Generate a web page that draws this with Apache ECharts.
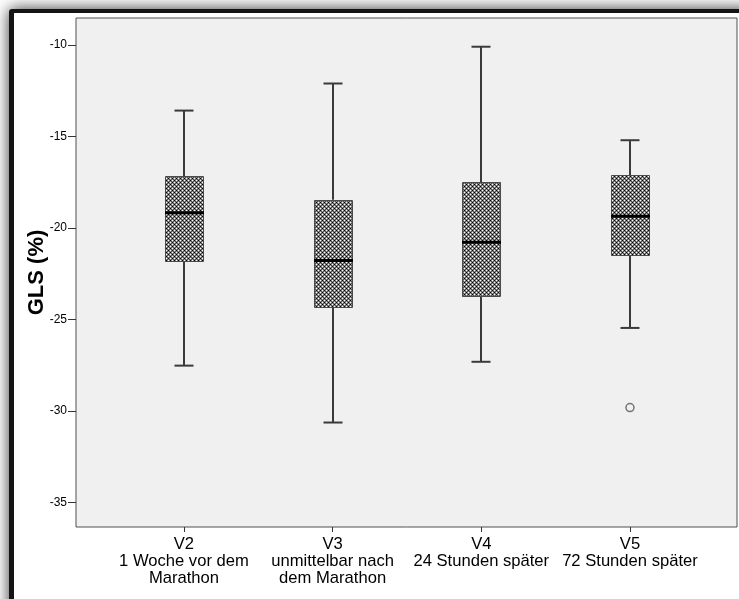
<!DOCTYPE html>
<html>
<head>
<meta charset="utf-8">
<script src="https://cdn.jsdelivr.net/npm/echarts@6/dist/echarts.min.js"></script>
<style>
  html, body { margin: 0; padding: 0; background: #fff; }
  #chart { width: 739px; height: 599px; }
</style>
</head>
<body>
<div id="chart"></div>
<script>
// Visit codes and their descriptions (x categories)
const codes = ['V2', 'V3', 'V4', 'V5'];
const descriptions = ['1 Woche vor dem\nMarathon', 'unmittelbar nach\ndem Marathon', '24 Stunden später', '72 Stunden später'];

// Box plot statistics for GLS (%)
const whiskerLow  = [-27.52, -30.63, -27.31, -25.46];
const quartile1   = [-21.79, -24.33, -23.69, -21.46];
const median      = [-19.16, -21.77, -20.77, -19.35];
const quartile3   = [-17.17, -18.45, -17.49, -17.12];
const whiskerHigh = [-13.58, -12.10, -10.09, -15.20];

// Outliers: [visit position, value]
const outliers = [[4, -29.81]];

// Y axis tick values
const yTicks = [-35, -30, -25, -20, -15, -10];

const FONT = '"Liberation Sans", Arial, sans-serif';

// Cross-hatch fill tile
function makeHatch() {
  const c = document.createElement('canvas');
  c.width = 4; c.height = 4;
  const ctx = c.getContext('2d');
  const W = '#ffffff', K = '#000000', g = '#8a8a8a', D = '#505050';
  const tile = [
    [W, g, K, g],
    [g, D, g, D],
    [K, g, W, g],
    [g, D, g, D]
  ];
  for (let y = 0; y < 4; y++) {
    for (let x = 0; x < 4; x++) {
      ctx.fillStyle = tile[y][x];
      ctx.fillRect(x, y, 1, 1);
    }
  }
  return c;
}
const hatch = { image: makeHatch(), repeat: 'repeat' };

const positions = codes.map((c, i) => i + 1);
const boxData = codes.map((c, i) => [i + 1, whiskerLow[i], quartile1[i], median[i], quartile3[i], whiskerHigh[i]]);

function renderBox(params, api) {
  const x = api.value(0);
  const pLow = api.coord([x, api.value(1)]);
  const pQ1 = api.coord([x, api.value(2)]);
  const pMed = api.coord([x, api.value(3)]);
  const pQ3 = api.coord([x, api.value(4)]);
  const pHigh = api.coord([x, api.value(5)]);
  const unit = api.size([1, 0])[0];
  const bw = Math.round(unit * 0.2556);
  const cw = Math.round(unit * 0.128);
  const cx = Math.round(pLow[0]);
  const whiskerStyle = { stroke: '#3a3a3a', lineWidth: 2 };
  return {
    type: 'group',
    children: [
      { type: 'line', shape: { x1: cx, y1: pHigh[1], x2: cx, y2: pQ3[1] }, style: whiskerStyle },
      { type: 'line', shape: { x1: cx, y1: pQ1[1], x2: cx, y2: pLow[1] }, style: whiskerStyle },
      { type: 'line', shape: { x1: cx - cw / 2, y1: pHigh[1], x2: cx + cw / 2, y2: pHigh[1] }, style: whiskerStyle },
      { type: 'line', shape: { x1: cx - cw / 2, y1: pLow[1], x2: cx + cw / 2, y2: pLow[1] }, style: whiskerStyle },
      {
        type: 'rect',
        shape: { x: cx - bw / 2 + 0.5, y: Math.round(pQ3[1]) + 0.5, width: bw, height: Math.round(pQ1[1]) - Math.round(pQ3[1]) },
        style: { fill: hatch, stroke: '#4a4a4a', lineWidth: 1 }
      },
      { type: 'line', shape: { x1: cx - bw / 2, y1: pMed[1], x2: cx + bw / 2 + 1, y2: pMed[1] }, style: { stroke: '#000', lineWidth: 3 } }
    ]
  };
}

const chart = echarts.init(document.getElementById('chart'), null, { renderer: 'canvas' });
chart.setOption({
  animation: false,
  backgroundColor: '#ffffff',
  textStyle: { fontFamily: FONT },
  graphic: [
    // window frame with drop shadow
    {
      type: 'rect', z: -20, silent: true,
      shape: { x: 9, y: 9, width: 900, height: 800, r: 3 },
      style: { fill: '#141414', shadowBlur: 16, shadowColor: 'rgba(0,0,0,0.8)', shadowOffsetX: 0, shadowOffsetY: 0 }
    },
    {
      type: 'rect', z: -19, silent: true,
      shape: { x: 14, y: 13, width: 900, height: 800 },
      style: { fill: '#ffffff' }
    }
  ],
  grid: {
    show: true,
    left: 76, right: 2, top: 18, bottom: 72,
    backgroundColor: '#f0f0f0',
    borderColor: '#505050',
    borderWidth: 1,
    containLabel: false
  },
  xAxis: {
    type: 'value',
    min: 0.274,
    max: 4.72,
    splitLine: { show: false },
    axisLine: { show: false, onZero: false },
    axisTick: { show: true, length: 5, customValues: positions, lineStyle: { color: '#333', width: 1 } },
    axisLabel: {
      customValues: positions,
      margin: 9,
      fontSize: 16.6,
      lineHeight: 17,
      color: '#000',
      fontFamily: FONT,
      align: 'center',
      formatter: function (v) {
        const i = Math.round(v) - 1;
        return codes[i] + '\n' + descriptions[i];
      }
    }
  },
  yAxis: {
    type: 'value',
    min: -36.34,
    max: -8.52,
    name: 'GLS (%)',
    nameLocation: 'middle',
    nameRotate: 90,
    nameGap: 28,
    nameMoveOverlap: false,
    nameTextStyle: { fontSize: 22, fontWeight: 'bold', color: '#000', fontFamily: FONT },
    splitLine: { show: false },
    axisLine: { show: false },
    axisTick: { show: true, length: 8, customValues: yTicks, lineStyle: { color: '#333', width: 1 } },
    axisLabel: { customValues: yTicks, margin: 9, fontSize: 12, color: '#000', fontFamily: FONT }
  },
  series: [
    {
      type: 'custom',
      renderItem: renderBox,
      encode: { x: 0, y: [1, 2, 3, 4, 5] },
      data: boxData,
      z: 3
    },
    {
      type: 'scatter',
      symbol: 'circle',
      symbolSize: 8,
      itemStyle: { color: 'rgba(0,0,0,0)', borderColor: '#555', borderWidth: 1.5 },
      data: outliers,
      z: 4
    }
  ]
});
</script>
</body>
</html>
